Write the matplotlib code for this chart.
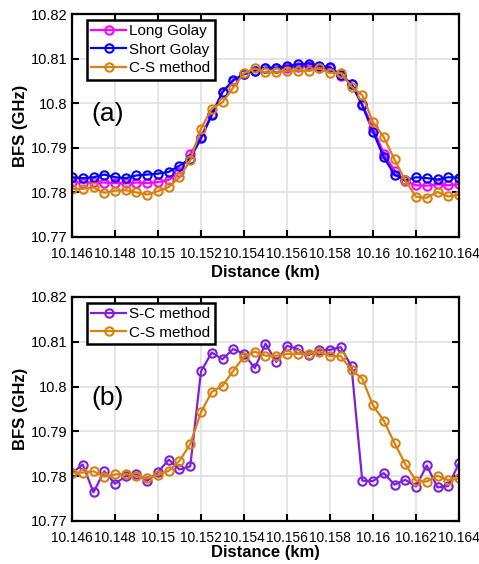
import numpy as np
import matplotlib.pyplot as plt

plt.rcParams['font.family'] = ['Liberation Sans', 'DejaVu Sans']

distance = np.round(np.arange(37) * 0.0005 + 10.146, 4)

long_golay = [10.7823, 10.7822, 10.7823, 10.7822, 10.7821, 10.7820, 10.7822, 10.7821, 10.7823, 10.7828,
              10.7845, 10.7886, 10.7925, 10.7976, 10.8025, 10.8050, 10.8065, 10.8073, 10.8078, 10.8078,
              10.8080, 10.8082, 10.8083, 10.8080, 10.8078, 10.8062, 10.8042, 10.7998, 10.7945, 10.7887,
              10.7849, 10.7825, 10.7816, 10.7815, 10.7818, 10.7816, 10.7818]
short_golay = [10.7834, 10.7832, 10.7834, 10.7840, 10.7834, 10.7832, 10.7838, 10.7840, 10.7842, 10.7846,
               10.7860, 10.7876, 10.7921, 10.7973, 10.8025, 10.8052, 10.8065, 10.8073, 10.8080, 10.8080,
               10.8083, 10.8087, 10.8089, 10.8084, 10.8081, 10.8063, 10.8044, 10.7995, 10.7936, 10.7879,
               10.7840, 10.7827, 10.7834, 10.7832, 10.7829, 10.7834, 10.7833]
cs_method = [10.7808, 10.7808, 10.7811, 10.7799, 10.7804, 10.7805, 10.7800, 10.7795, 10.7803, 10.7812,
             10.7834, 10.7872, 10.7943, 10.7988, 10.8002, 10.8035, 10.8067, 10.8078, 10.8069, 10.8069,
             10.8073, 10.8073, 10.8073, 10.8078, 10.8068, 10.8068, 10.8037, 10.8018, 10.7958, 10.7924,
             10.7874, 10.7827, 10.7790, 10.7788, 10.7801, 10.7791, 10.7795]
sc_method = [10.7807, 10.7826, 10.7764, 10.7811, 10.7783, 10.7800, 10.7804, 10.7790, 10.7809, 10.7837,
             10.7815, 10.7822, 10.8034, 10.8076, 10.8061, 10.8084, 10.8073, 10.8041, 10.8096, 10.8055,
             10.8091, 10.8084, 10.8070, 10.8082, 10.8082, 10.8088, 10.8045, 10.7790, 10.7789, 10.7807,
             10.7781, 10.7792, 10.7777, 10.7824, 10.7775, 10.7778, 10.7829]

xticks = np.round(np.arange(10.146, 10.1641, 0.002), 3)
yticks = [10.77, 10.78, 10.79, 10.8, 10.81, 10.82]

C_MAG = '#ff00ff'
C_BLUE = '#0000ff'
C_ORANGE = '#d9800f'
C_PURPLE = '#7d1fdc'


def style_axes(ax, tag, xlabelpad):
    ax.set_xlim(10.146, 10.164)
    ax.set_ylim(10.77, 10.82)
    ax.set_xticks(xticks)
    ax.set_xticklabels(['%g' % t for t in xticks])
    ax.set_yticks(yticks)
    ax.set_yticklabels(['%g' % t for t in yticks])
    ax.grid(True, color='#e0e0e0', linewidth=1.2)
    ax.set_axisbelow(True)
    ax.tick_params(direction='in', top=True, right=True, length=5, width=1.5)
    ax.tick_params(axis='x', pad=7, labelsize=9.9)
    ax.tick_params(axis='y', pad=3, labelsize=10.5)
    for s in ax.spines.values():
        s.set_linewidth(1.6)
    ax.set_xlabel('Distance (km)', fontsize=12, fontweight='bold', labelpad=xlabelpad)
    ax.set_ylabel('BFS (GHz)', fontsize=12, fontweight='bold', labelpad=2)
    ax.text(0.05, 0.52, tag, transform=ax.transAxes, fontsize=19)
    leg = ax.legend(loc='upper left', bbox_to_anchor=(0.038, 0.975), fontsize=11,
                    fancybox=False, framealpha=1, edgecolor='black',
                    handlelength=2.3, handletextpad=0.2, borderpad=0.3,
                    labelspacing=0.3, borderaxespad=0)
    leg.get_frame().set_linewidth(1.8)


kw = dict(marker='o', mfc='none', markersize=6, mew=1.5, linewidth=1.6)

fig = plt.figure(figsize=(4.79, 5.64), dpi=100)
ax1 = fig.add_axes([72 / 479, 1 - 237 / 564, 387 / 479, 223 / 564])
ax1.plot(distance, long_golay, color=C_MAG, label='Long Golay', **kw)
ax1.plot(distance, short_golay, color=C_BLUE, label='Short Golay', **kw)
ax1.plot(distance, cs_method, color=C_ORANGE, label='C-S method', **kw)
style_axes(ax1, '(a)', 3)

ax2 = fig.add_axes([72 / 479, 1 - 521 / 564, 387 / 479, 224 / 564])
ax2.plot(distance, sc_method, color=C_PURPLE, label='S-C method', **kw)
ax2.plot(distance, cs_method, color=C_ORANGE, label='C-S method', **kw)
style_axes(ax2, '(b)', 0)

fig.savefig('out.png', dpi=100)
